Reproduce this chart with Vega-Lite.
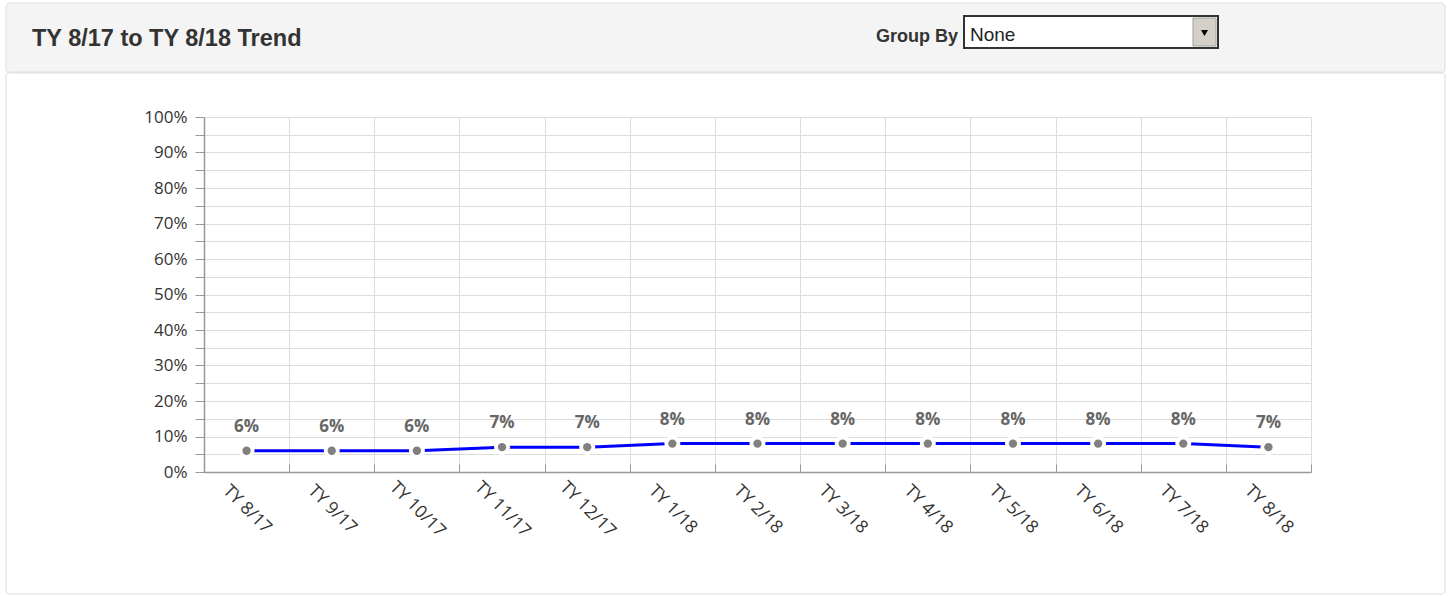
{
  "$schema": "https://vega.github.io/schema/vega-lite/v6.json",
  "background": "#ffffff",
  "padding": {"left": 5, "top": 2, "right": 5, "bottom": 0},
  "spacing": -3,
  "vconcat": [
    {
      "width": 1107,
      "height": 70,
      "view": {"stroke": null},
      "data": {"values": [{"header": "TY 8/17 to TY 8/18 Trend", "groupLabel": "Group By", "groupValue": "None"}]},
      "layer": [
        {"mark": {"type": "rect", "x": -198, "x2": 1241, "y": 0, "y2": 70, "fill": "#f4f4f4", "stroke": "#dddddd", "strokeWidth": 1, "cornerRadius": 4}, "encoding": {}},
        {"mark": {"type": "text", "x": -172, "y": 43, "align": "left", "baseline": "alphabetic", "font": "Liberation Sans", "fontWeight": "bold", "fontSize": 23.5, "color": "#333333"}, "encoding": {"text": {"field": "header"}}},
        {"mark": {"type": "text", "x": 754, "y": 39, "align": "right", "baseline": "alphabetic", "font": "Liberation Sans", "fontWeight": "bold", "fontSize": 18, "color": "#333333"}, "encoding": {"text": {"field": "groupLabel"}}},
        {"mark": {"type": "rect", "x": 760, "x2": 1014, "y": 13, "y2": 45, "fill": "#ffffff", "stroke": "#333333", "strokeWidth": 2}, "encoding": {}},
        {"mark": {"type": "rect", "x": 989, "x2": 1012, "y": 15, "y2": 43, "fill": "#d4d0c8", "stroke": "#a0a0a0", "strokeWidth": 1}, "encoding": {}},
        {"mark": {"type": "point", "x": 1000.5, "y": 30, "shape": "triangle-down", "filled": true, "fill": "#000000", "size": 50, "opacity": 1}, "encoding": {}},
        {"mark": {"type": "text", "x": 766, "y": 38, "align": "left", "baseline": "alphabetic", "font": "Liberation Sans", "fontSize": 19, "color": "#222222"}, "encoding": {"text": {"field": "groupValue"}}}
      ]
    },
    {
      "width": 1107,
      "height": 355,
      "view": {"stroke": null},
      "layer": [
        {
          "data": {"values": [{"panel": "body"}]},
          "mark": {"type": "rect", "fill": null, "stroke": "#dddddd", "strokeWidth": 1, "cornerRadius": 4},
          "encoding": {"x": {"value": -198}, "x2": {"value": 1241}, "y": {"value": -45}, "y2": {"value": 477}}
        },
        {
          "data": {"values": [
            {"period": "TY 8/17", "rate": 0.06},
            {"period": "TY 9/17", "rate": 0.06},
            {"period": "TY 10/17", "rate": 0.06},
            {"period": "TY 11/17", "rate": 0.07},
            {"period": "TY 12/17", "rate": 0.07},
            {"period": "TY 1/18", "rate": 0.08},
            {"period": "TY 2/18", "rate": 0.08},
            {"period": "TY 3/18", "rate": 0.08},
            {"period": "TY 4/18", "rate": 0.08},
            {"period": "TY 5/18", "rate": 0.08},
            {"period": "TY 6/18", "rate": 0.08},
            {"period": "TY 7/18", "rate": 0.08},
            {"period": "TY 8/18", "rate": 0.07}
          ]},
          "encoding": {
            "x": {
              "field": "period", "type": "nominal", "sort": null, "bandPosition": 0.5,
              "scale": {"type": "band", "paddingInner": 0, "paddingOuter": 0},
              "axis": {
                "title": null, "tickBand": "extent", "grid": true, "gridColor": "#dcdcdc",
                "tickColor": "#999999", "tickSize": -8, "domainColor": "#999999", "domainWidth": 1.5,
                "labelAngle": 45, "labelAlign": "center", "labelBaseline": "middle", "labelPadding": 45,
                "labelFont": "Open Sans", "labelFontSize": 17.5, "labelColor": "#333333",
                "labelOverlap": false, "labelFlush": false, "labelBound": false
              }
            },
            "y": {
              "field": "rate", "type": "quantitative",
              "scale": {"domain": [0, 1], "nice": false},
              "axis": {
                "title": null,
                "values": [0, 0.05, 0.1, 0.15, 0.2, 0.25, 0.3, 0.35, 0.4, 0.45, 0.5, 0.55, 0.6, 0.65, 0.7, 0.75, 0.8, 0.85, 0.9, 0.95, 1],
                "format": ".0%",
                "labelExpr": "round(datum.value*100) % 10 == 0 ? datum.label : ''",
                "grid": true, "gridColor": "#dcdcdc", "tickColor": "#999999", "tickSize": 9,
                "domainColor": "#999999", "domainWidth": 1.5, "labelPadding": 8,
                "labelFont": "Open Sans", "labelFontSize": 17, "labelColor": "#333333"
              }
            }
          },
          "layer": [
            {"mark": {"type": "line", "color": "#0000ff", "strokeWidth": 3}},
            {"mark": {"type": "point", "filled": true, "fill": "#ffffff", "size": 255, "opacity": 1, "strokeWidth": 0}},
            {"mark": {"type": "point", "filled": true, "fill": "#808080", "size": 70, "opacity": 1, "strokeWidth": 0}},
            {"mark": {"type": "text", "dy": -24, "font": "Open Sans", "fontWeight": "bold", "fontSize": 17, "color": "#666666"}, "encoding": {"text": {"field": "rate", "format": ".0%"}}}
          ]
        }
      ]
    }
  ]
}
